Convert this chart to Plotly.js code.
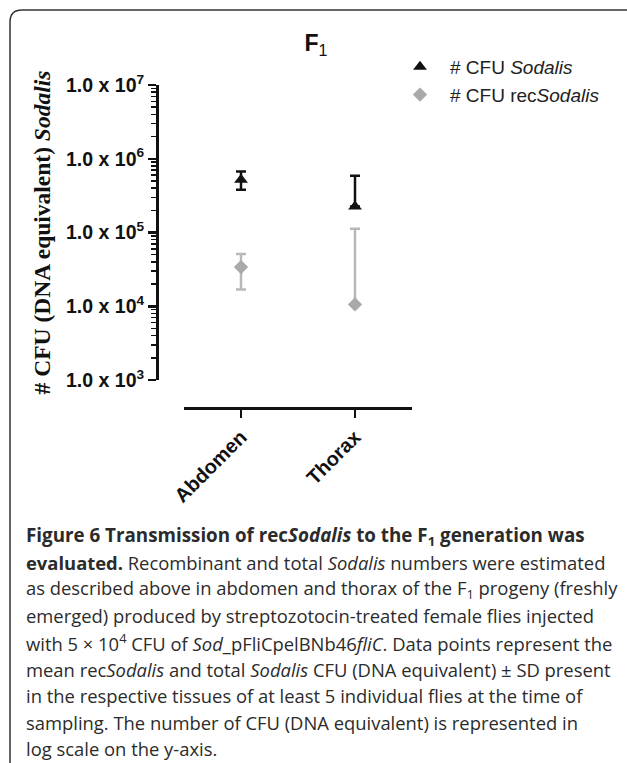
<!DOCTYPE html>
<html>
<head>
<meta charset="utf-8">
<script src="https://cdn.plot.ly/plotly-3.0.1.min.js"></script>
<style>
html,body{margin:0;padding:0;background:#fff;}
#chart{width:627px;height:763px;}
</style>
</head>
<body>
<div id="chart"></div>
<script>
// ---- data ----
const categories = ['Abdomen', 'Thorax'];
const sodalisMean = [5.2e5, 2.25e5];
const sodalisPlus = [1.5e5, 3.65e5];
const sodalisMinus = [1.4e5, 0];
const recMean = [3.4e4, 1.06e4];
const recPlus = [1.7e4, 1.014e5];
const recMinus = [1.71e4, 0];
const yTickVals = [1e3, 1e4, 1e5, 1e6, 1e7];
const yTickText = ['1.0 x 10<sup>3</sup>', '1.0 x 10<sup>4</sup>', '1.0 x 10<sup>5</sup>', '1.0 x 10<sup>6</sup>', '1.0 x 10<sup>7</sup>'];
const seriesNames = ['# CFU <i>Sodalis</i>', '# CFU rec<i>Sodalis</i>'];
const captionLines = [
  '<b>Figure 6 Transmission of rec<i>Sodalis</i> to the F<sub>1</sub> generation was</b>',
  '<b>evaluated.</b> Recombinant and total <i>Sodalis</i> numbers were estimated',
  'as described above in abdomen and thorax of the F<sub>1</sub> progeny (freshly',
  'emerged) produced by streptozotocin-treated female flies injected',
  'with 5 × 10<sup>4</sup> CFU of <i>Sod</i>_pFliCpelBNb46<i>fliC</i>. Data points represent the',
  'mean rec<i>Sodalis</i> and total <i>Sodalis</i> CFU (DNA equivalent) ± SD present',
  'in the respective tissues of at least 5 individual flies at the time of',
  'sampling. The number of CFU (DNA equivalent) is represented in',
  'log scale on the y-axis.'
];

// ---- layout helpers (pixel -> paper) ----
const W = 627, H = 763;
const px = v => v / W;
const py = v => 1 - v / H;

const SANS = 'Liberation Sans, Arial, sans-serif';
const SERIF = 'Liberation Serif, Times New Roman, serif';
const CAP = 'Open Sans, Noto Sans, sans-serif';

const traces = [
  {
    type: 'scatter', mode: 'markers', name: seriesNames[0],
    x: categories, y: sodalisMean,
    marker: {symbol: 'triangle-up', size: 12, color: '#111'},
    error_y: {type: 'data', symmetric: false, array: sodalisPlus, arrayminus: sodalisMinus,
              color: '#111', thickness: 2.5, width: 5}
  },
  {
    type: 'scatter', mode: 'markers', name: seriesNames[1],
    x: categories, y: recMean,
    marker: {symbol: 'diamond', size: 11, color: '#a8a9ab'},
    error_y: {type: 'data', symmetric: false, array: recPlus, arrayminus: recMinus,
              color: '#b8b8b8', thickness: 2.5, width: 5}
  }
];

// rounded border (open at right/bottom beyond window)
function borderPath() {
  const l = 10, t = 10, r = 640, b = 800, rad = 12;
  const kx = rad / W, ky = rad / H;
  return 'M ' + px(l) + ' ' + py(b) +
    ' L ' + px(l) + ' ' + (py(t) - ky) +
    ' Q ' + px(l) + ' ' + py(t) + ' ' + (px(l) + kx) + ' ' + py(t) +
    ' L ' + px(r) + ' ' + py(t);
}

const annotations = captionLines.map((txt, i) => ({
  xref: 'paper', yref: 'paper', x: px(24), y: py(536 + 26.6 * i),
  xanchor: 'left', yanchor: 'middle', align: 'left', showarrow: false,
  text: txt, font: {family: CAP, size: i === 0 ? 18.8 : 18.4, color: '#2b2b2b'}
}));

const layout = {
  width: W, height: H,
  margin: {l: 0, r: 0, t: 0, b: 0},
  paper_bgcolor: '#fff', plot_bgcolor: 'rgba(0,0,0,0)',
  showlegend: true,
  title: {
    text: '<b>F</b><sub>1</sub>', x: px(316), y: py(43), xanchor: 'center', yanchor: 'middle',
    xref: 'paper', yref: 'paper',
    font: {family: SANS, size: 23, color: '#111'}
  },
  xaxis: {
    type: 'category', domain: [px(184), px(412)], range: [-0.5, 1.5],
    anchor: 'free', position: py(408),
    showline: true, linecolor: '#111', linewidth: 2.5,
    showgrid: false, zeroline: false,
    ticks: 'outside', ticklen: 8, tickwidth: 2.5, tickcolor: '#111',
    tickangle: -45,
    tickfont: {family: SANS, size: 20, color: '#111', weight: 'bold'}
  },
  yaxis: {
    type: 'log', domain: [py(380), py(85)], range: [3, 7],
    anchor: 'free', position: px(157),
    showline: true, linecolor: '#111', linewidth: 2.5,
    showgrid: false, zeroline: false,
    tickmode: 'array', tickvals: yTickVals, ticktext: yTickText,
    ticks: 'outside', ticklen: 8, tickwidth: 2.5, tickcolor: '#111',
    minor: {ticks: 'outside', ticklen: 5, tickwidth: 1.5, tickcolor: '#111', dtick: 'D1', showgrid: false},
    tickfont: {family: SANS, size: 19.5, color: '#111', weight: 'bold'},
    title: {text: '# CFU (DNA equivalent) <i>Sodalis</i>', standoff: 8,
            font: {family: SERIF, size: 23.5, color: '#111', weight: 'bold'}}
  },
  legend: {
    x: px(390), y: py(48), xanchor: 'left', yanchor: 'top',
    itemwidth: 50, bgcolor: 'rgba(0,0,0,0)', borderwidth: 0,
    font: {family: SANS, size: 19, color: '#222'}
  },
  shapes: [{
    type: 'path', xref: 'paper', yref: 'paper', path: borderPath(),
    line: {color: '#333', width: 1.5}
  }],
  annotations: annotations
};

Plotly.newPlot('chart', traces, layout, {displayModeBar: false, staticPlot: true});
</script>
</body>
</html>
